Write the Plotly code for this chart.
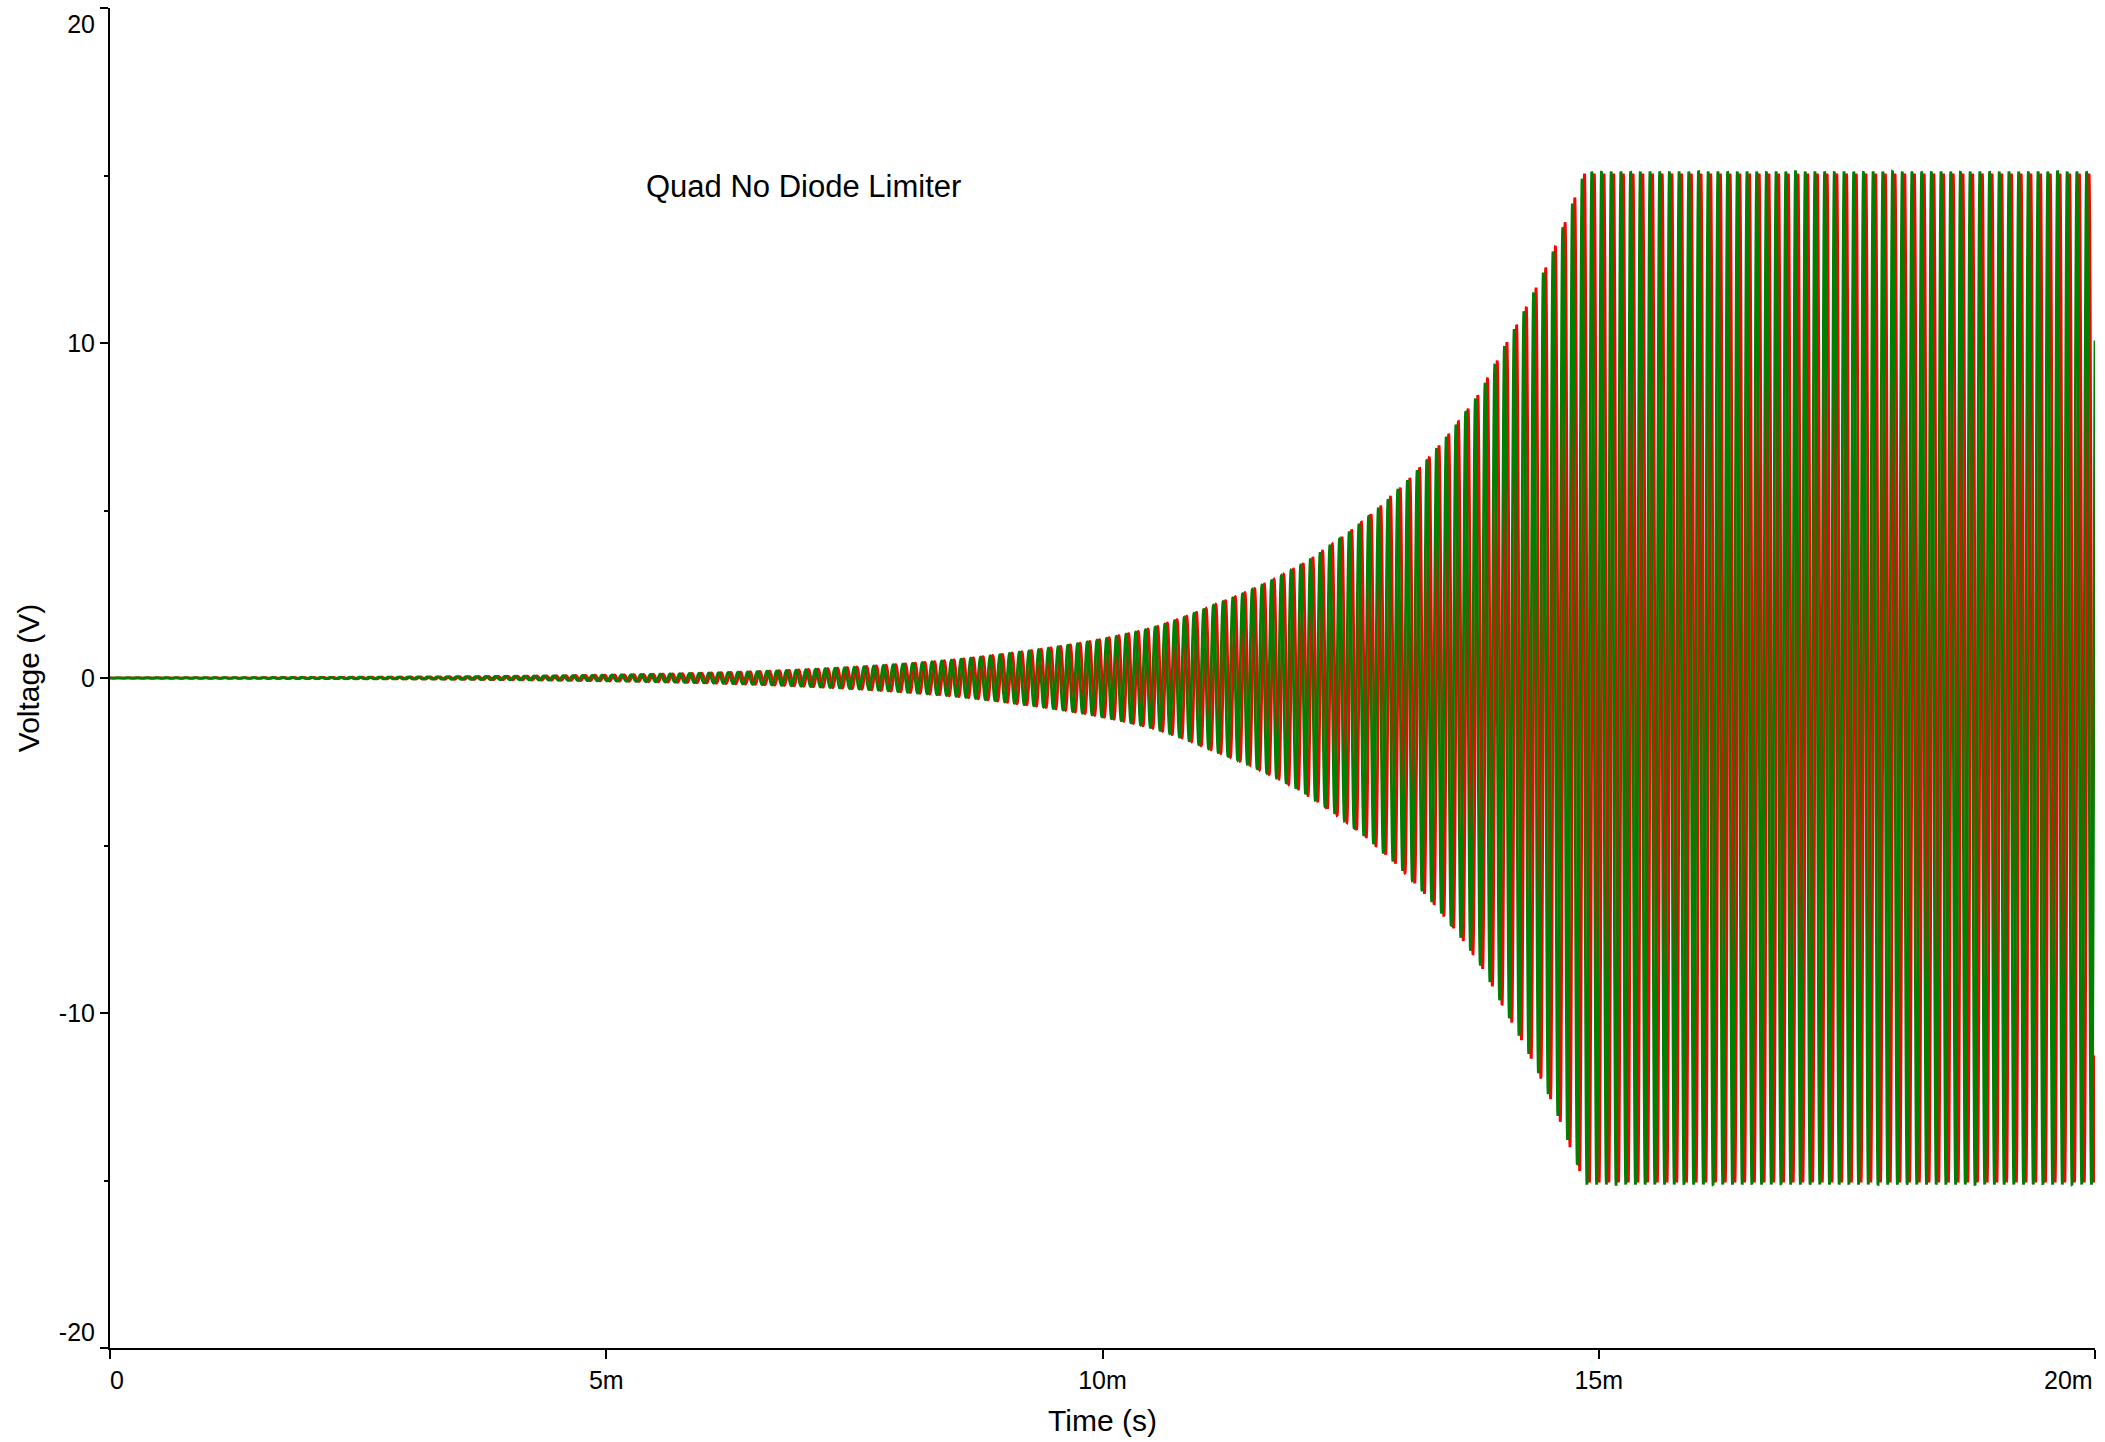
import numpy as np
import plotly.graph_objects as go

# ---- data ----
# envelope (peak amplitude) of the growing oscillation, read at several times
env_time_ms = [0.0, 2.0, 4.0, 6.0, 8.0, 8.5, 9.1, 9.8, 10.5, 11.1, 11.8, 12.0, 12.4, 13.0, 13.4, 13.8, 14.05, 14.35, 14.55, 14.74, 14.86, 20.0]
env_volts = [0.0063, 0.018, 0.052, 0.147, 0.42, 0.54, 0.75, 1.05, 1.49, 2.15, 3.05, 3.38, 4.18, 5.68, 6.97, 8.52, 9.9, 11.54, 12.8, 14.2, 15.12, 15.12]
carrier_freq_khz = 10.23        # ~9.7 px per cycle
green_peak_ms = 14.93            # a green crest near clipping onset
green_clip_V = 15.12
red_clip_V = 15.02
annotation_text = "Quad No Diode Limiter"
annotation_pos = (0.00699, 14.68)
x_tick_vals = [0, 0.005, 0.010, 0.015, 0.020]
x_tick_text = ["&nbsp;&nbsp;0", "5m", "10m", "15m", ""]
x_last_tick_text = "20m"        # drawn inside the page, right-aligned to the axis end
y_tick_vals = [-20, -10, 0, 10, 20]
y_tick_text = ["-20<br>&nbsp;", "-10", "0", "10", "&nbsp;<br>20"]

# ---- build traces ----
n = 24000
t_ms = np.linspace(0, 20, n)
env = np.exp(np.interp(t_ms, env_time_ms, np.log(env_volts)))
phase = 2 * np.pi * carrier_freq_khz * (t_ms - green_peak_ms)
green = np.clip(env * np.cos(phase), -green_clip_V, green_clip_V)
red = np.clip(env * np.sin(phase), -red_clip_V, red_clip_V)
t_s = t_ms / 1000.0

fig = go.Figure()
fig.add_trace(go.Scatter(x=t_s, y=red, mode="lines", line=dict(color="#ff0000", width=2.8, simplify=False),
                         name="red", showlegend=False))
fig.add_trace(go.Scatter(x=t_s, y=green, mode="lines", line=dict(color="#008000", width=2.8, simplify=False),
                         name="green", showlegend=False))

font_family = "Liberation Sans, Arial, sans-serif"
fig.add_annotation(x=annotation_pos[0], y=annotation_pos[1], text=annotation_text, showarrow=False,
                   xref="x", yref="y", font=dict(family=font_family, size=31, color="black"))
fig.add_annotation(x=x_tick_vals[-1], y=0, xref="x", yref="paper", text=x_last_tick_text,
                   showarrow=False, xanchor="right", yanchor="middle", xshift=0, yshift=-32,
                   font=dict(family=font_family, size=25, color="black"))

fig.update_layout(
    width=2105, height=1442,
    margin=dict(l=110, r=10, t=8, b=94),
    paper_bgcolor="white", plot_bgcolor="white",
    font=dict(family=font_family, color="black"),
    showlegend=False,
)
fig.update_xaxes(
    range=[0, 0.020], tickvals=x_tick_vals, ticktext=x_tick_text,
    showgrid=False, zeroline=False, showline=True, linecolor="black", linewidth=2,
    ticks="outside", ticklen=9, tickwidth=2, tickcolor="black", ticklabeloverflow="allow",
    tickfont=dict(size=25), title=dict(text="Time (s)", font=dict(size=30), standoff=17),
    automargin=False,
)
fig.update_yaxes(
    range=[-20, 20], tickvals=y_tick_vals, ticktext=y_tick_text,
    showgrid=False, zeroline=False, showline=True, linecolor="black", linewidth=2,
    ticks="outside", ticklen=8, tickwidth=2, tickcolor="black", ticklabeloverflow="allow",
    minor=dict(tickvals=[-15, -5, 5, 15], ticks="outside", ticklen=4, tickwidth=1.5, tickcolor="black"),
    tickfont=dict(size=25), title=dict(text="Voltage (V)", font=dict(size=30), standoff=10),
    automargin=False,
)

fig.write_html("out.html")
